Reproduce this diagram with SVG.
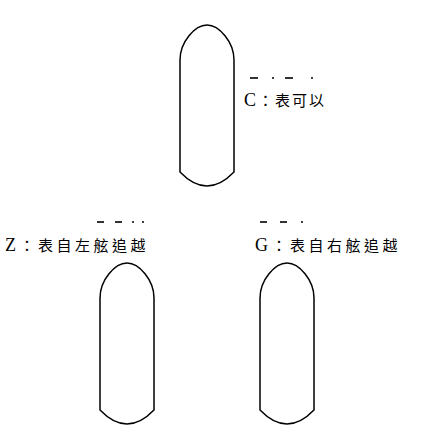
<svg xmlns="http://www.w3.org/2000/svg" xmlns:xlink="http://www.w3.org/1999/xlink" width="421" height="440" viewBox="0 0 421 440">
<style>
.hull{fill:none;stroke:#000;stroke-width:1.5}
.lbl{font-family:"Liberation Serif","Noto Sans CJK TC",serif;font-size:15px;fill:#000}
.lat{font-size:18px}
.sig{stroke:#000;stroke-width:1.6}
</style>
<defs>
<path id="ship" d="M180,172 L180,60 C180,42 195,25 207,25 C219,25 234,42 234,60 L234,172 Q207,200 180,172 Z"/>
</defs>
<rect width="421" height="440" fill="#fff"/>
<g id="ship-top"><use xlink:href="#ship" class="hull"/></g>
<g id="ship-z"><use xlink:href="#ship" class="hull" transform="translate(-80,238)"/></g>
<g id="ship-g"><use xlink:href="#ship" class="hull" transform="translate(80,238)"/></g>
<g id="label-c">
<g class="sig"><line x1="250" y1="78" x2="258" y2="78"/><line x1="272" y1="78" x2="274" y2="78"/><line x1="285" y1="78" x2="293" y2="78"/><line x1="311" y1="78" x2="313" y2="78"/></g>
<text class="lbl" x="244" y="106" letter-spacing="2"><tspan class="lat">C</tspan>：表可以</text>
</g>
<g id="label-z">
<g class="sig"><line x1="97" y1="222" x2="104" y2="222"/><line x1="115" y1="222" x2="122" y2="222"/><line x1="132" y1="222" x2="134" y2="222"/><line x1="142" y1="222" x2="144" y2="222"/></g>
<text class="lbl" x="5" y="251" letter-spacing="3.5"><tspan class="lat">Z</tspan>：表自左舷追越</text>
</g>
<g id="label-g">
<g class="sig"><line x1="260" y1="222" x2="267" y2="222"/><line x1="280" y1="222" x2="287" y2="222"/><line x1="301" y1="222" x2="303" y2="222"/></g>
<text class="lbl" x="255" y="251" letter-spacing="3.5"><tspan class="lat">G</tspan>：表自右舷追越</text>
</g>
</svg>
